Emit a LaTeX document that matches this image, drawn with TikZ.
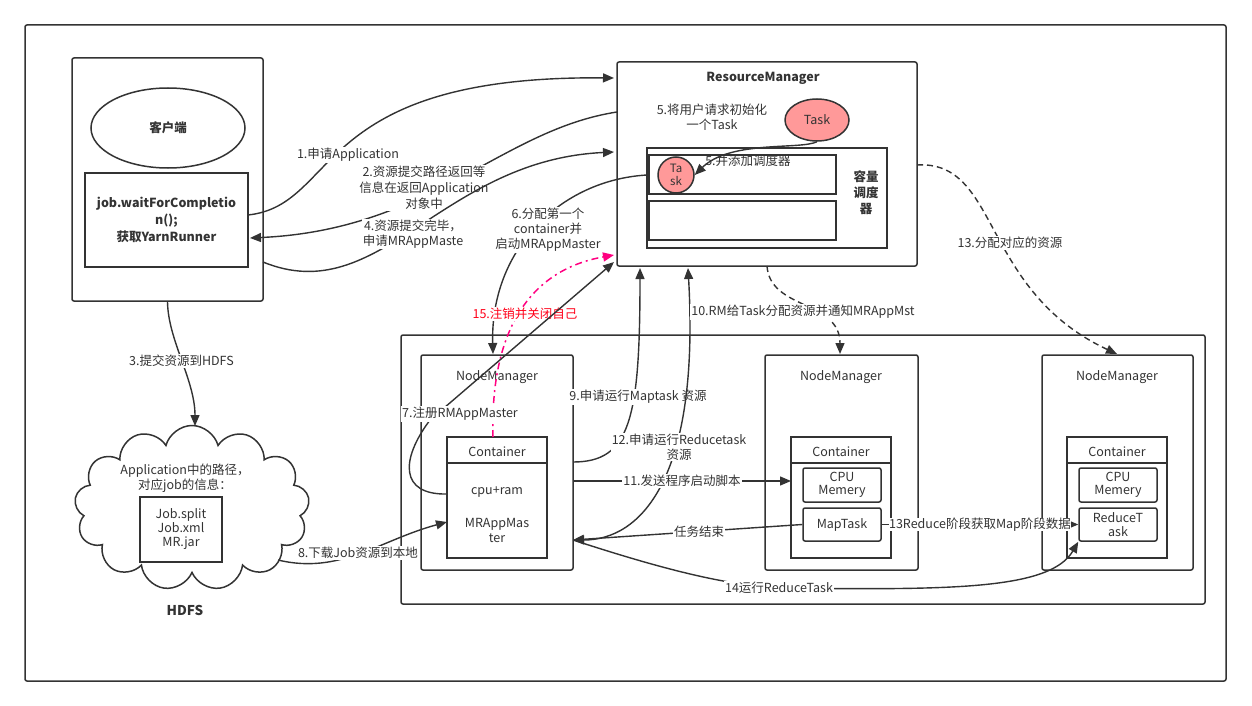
\documentclass[tikz,border=0pt]{standalone}
\usepackage{fontspec}
\setmainfont{Noto Sans CJK SC}
\usetikzlibrary{shapes.geometric,shapes.symbols,arrows.meta}
\definecolor{ln}{HTML}{333333}
\definecolor{pk}{HTML}{FF0080}
\begin{document}
\begin{tikzpicture}[x=1pt,y=-1pt,font=\fontsize{12.5}{15}\selectfont,
  every node/.style={text=ln},
  box/.style={draw=ln,line width=1.5pt,rounded corners=2pt},
  ibox/.style={draw=ln,line width=1.8pt},
  ar/.style={draw=ln,line width=1.4pt,-{Triangle[length=11pt,width=9pt]}},
  lab/.style={fill=white,inner sep=1pt,align=center}]
\useasboundingbox (0,0) rectangle (1252,706);
\draw[box] (25,25) rectangle (1226,681);
% client
\node[ellipse,draw=ln,line width=1.5pt,minimum width=154,minimum height=80,font=\fontsize{12.5}{15}\selectfont\bfseries] (cli) at (168,128) {客户端};
\node[ibox,minimum width=163,minimum height=94,align=center,font=\fontsize{12.5}{17}\selectfont\bfseries] (job) at (166.5,220) {job.waitForCompletio\\n();\\获取YarnRunner};
\node[box,minimum width=191,minimum height=243,inner sep=0] (client) at (167.5,179.5) {};
% RM
\node[box,minimum width=300,minimum height=204,inner sep=0] (rm) at (767,164) {};
\node[font=\fontsize{12.5}{15}\selectfont\bfseries] at (763,78) {ResourceManager};
\node[align=center] at (712,117) {5.将用户请求初始化\\一个Task};
\node[ellipse,draw=ln,line width=1.5pt,fill=red!40!white,minimum width=64,minimum height=42,inner sep=1pt] (task) at (817,120) {Task};
\node[ibox,minimum width=240,minimum height=100,inner sep=0] (cap) at (767,198) {};
\draw[ibox,fill=white] (649,155) rectangle (836,194);
\draw[ibox,fill=white] (649,201) rectangle (836,240);
\node[font=\fontsize{12.5}{16}\selectfont\bfseries,align=center] at (866,193) {容量\\调度\\器};
\node[circle,draw=ln,line width=1.5pt,fill=red!40!white,minimum size=36,inner sep=0,align=center,font=\fontsize{11.5}{12.5}\selectfont] (stask) at (676,175) {Ta\\sk};
\node at (748,161) {5.并添加调度器};
\draw[ar] (task.south) .. controls (800,150) and (730,140) .. (stask.east);
% HDFS
\node[cloud,draw=ln,line width=1.5pt,cloud puffs=13,aspect=1.5,minimum width=235,minimum height=165] (hdfs) at (192,508) {};
\node[align=center] at (185,478) {Application中的路径，\\对应job的信息：};
\node[ibox,line width=1.5pt,minimum width=82,minimum height=65,inner sep=0,align=center,font=\fontsize{12.5}{14}\selectfont] (jf) at (181,529.5) {Job.split\\Job.xml\\MR.jar};
\node[font=\fontsize{13.5}{16}\selectfont\bfseries] at (185,610) {HDFS};
% NM frame
\draw[box] (401,335) rectangle (1205,604);
% NM1
\node[box,minimum width=152,minimum height=215,inner sep=0] (nm1) at (497,462.5) {};
\node at (497,377) {NodeManager};
\draw[ibox] (447,437) rectangle (547,558); \draw[ibox] (447,463)--(547,463);
\node at (497,452) {Container};
\coordinate (c1t) at (493,437);
\node (cpu1) at (497,492) {cpu+ram};
\node[align=center] (mr) at (497,530) {MRAppMas\\ter};
% NM2
\node[box,minimum width=153,minimum height=215,inner sep=0] (nm2) at (841.5,462.5) {};
\node at (841,377) {NodeManager};
\draw[ibox] (791,437) rectangle (891,558); \draw[ibox] (791,463)--(891,463);
\node at (841,452) {Container};
\node[draw=ln,line width=1.5pt,rounded corners=2pt,minimum width=78,minimum height=34,inner sep=0,align=center,font=\fontsize{12.5}{13.5}\selectfont] (cpu2) at (842,485) {CPU\\Memery};
\node[draw=ln,line width=1.5pt,rounded corners=2pt,minimum width=78,minimum height=33,inner sep=0] (map) at (842,524.5) {MapTask};
% NM3
\node[box,minimum width=151,minimum height=215,inner sep=0] (nm3) at (1117.5,462.5) {};
\node at (1117,377) {NodeManager};
\draw[ibox] (1067,437) rectangle (1167,558); \draw[ibox] (1067,463)--(1167,463);
\node at (1117,452) {Container};
\node[draw=ln,line width=1.5pt,rounded corners=2pt,minimum width=78,minimum height=34,inner sep=0,align=center,font=\fontsize{12.5}{13.5}\selectfont] (cpu3) at (1118,485) {CPU\\Memery};
\node[draw=ln,line width=1.5pt,rounded corners=2pt,minimum width=78,minimum height=33,inner sep=0,align=center,font=\fontsize{12.5}{13.5}\selectfont] (red) at (1118,524.5) {ReduceT\\ask};
% coordinates
\coordinate (j1) at (248,215); \coordinate (r1) at (614,78);
\coordinate (r2) at (617,112); \coordinate (j2) at (250,238);
\coordinate (c4) at (263,262); \coordinate (r4) at (614,152);
\coordinate (r6) at (647,175); \coordinate (n1t) at (493,354);
\coordinate (r15) at (614,255); \coordinate (r7) at (614,262);
\coordinate (r9) at (640,268); \coordinate (r12) at (688,268);
\coordinate (r10) at (767,266); \coordinate (n2t) at (840,354);
\coordinate (r13) at (917,165); \coordinate (n3t) at (1117,354);
\coordinate (mrr) at (573,540);
% connectors
\draw[ar] (j1) .. controls (340,205) and (310,75) .. (r1);
\node[lab] at (348,155) {1.申请Application};
\draw[ar] (r2) .. controls (500,130) and (430,230) .. (j2);
\node[lab,font=\fontsize{12.5}{16}\selectfont] at (424,188) {2.资源提交路径返回等\\信息在返回Application\\对象中};
\draw[ar] (c4) .. controls (380,310) and (440,160) .. (r4);
\node[lab] at (413,234) {4.资源提交完毕，\\申请MRAppMaste};
\draw[ar] (r6) .. controls (560,180) and (490,250) .. (n1t);
\node[lab] at (548,230) {6.分配第一个\\container并\\启动MRAppMaster};
\draw[draw=pk,line width=1.5pt,dash pattern=on 7pt off 4pt on 2pt off 4pt,-{Triangle[length=11pt,width=9pt]}] (c1t) .. controls (490,330) and (530,270) .. (r15);
\node[lab,text=red!80!pk] at (525,314) {15.注销并关闭自己};
\draw[ar] (447,494) .. controls (400,495) and (400,460) .. (430,420) -- (r7);
\node[lab] at (460,414) {7.注册RMAppMaster};
\draw[ar] (573,462) .. controls (630,462) and (640,420) .. (r9);
\node[lab] at (638,397) {9.申请运行Maptask 资源};
\draw[ar,{Triangle[length=11pt,width=9pt]}-{Triangle[length=11pt,width=9pt]}] (mrr) .. controls (640,540) and (700,480) .. (r12);
\node[lab] at (679,447) {12.申请运行Reducetask\\资源};
\draw[ar,dash pattern=on 6pt off 4pt] (r10) .. controls (770,310) and (840,300) .. (n2t);
\node[lab] at (803,312) {10.RM给Task分配资源并通知MRAppMst};
\draw[ar,dash pattern=on 6pt off 4pt] (r13) .. controls (1000,160) and (980,290) .. (n3t);
\node[lab] at (1010,243) {13.分配对应的资源};
\draw[ar] (client.south) .. controls (168,340) and (195,380) .. node[lab,pos=0.5] {3.提交资源到HDFS} (195,426);
\draw[ar] (278,560) .. controls (340,575) and (380,540) .. (447,522);
\node[lab] at (358,553) {8.下载Job资源到本地};
\draw[ar] (573,481) -- node[lab] {11.发送程序启动脚本} (791,481);
\draw[ar] (map.west) -- node[lab,pos=0.45] {任务结束} (mrr);
\draw[ar] (map.east) -- node[lab,pos=0.5,inner sep=0] {13Reduce阶段获取Map阶段数据} (red.west);
\draw[ar] (mrr) .. controls (650,565) and (720,585) .. (780,588) .. controls (950,590) and (1050,590) .. (red.south west);
\node[lab] at (779,588) {14运行ReduceTask};
\end{tikzpicture}
\end{document}
